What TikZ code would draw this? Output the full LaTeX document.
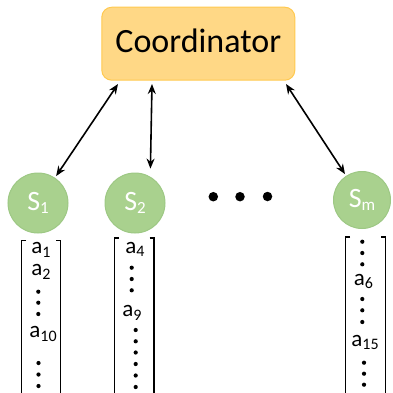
\documentclass[tikz,border=0pt]{standalone}
\usepackage{fontspec}
\setmainfont{Carlito}
\usetikzlibrary{arrows.meta}
\definecolor{boxfill}{HTML}{FFD886}
\definecolor{boxline}{HTML}{FFC94F}
\definecolor{srvfill}{HTML}{A9D18E}
\definecolor{srvline}{HTML}{9DC884}
\newcommand{\subsc}[2]{{\fontsize{#1}{#1}\selectfont\raisebox{-0.22em}{#2}}}
\begin{document}
\begin{tikzpicture}[x=1pt,y=-1pt,
  coord/.style={draw=boxline,fill=boxfill,line width=1pt,rounded corners=10pt,minimum width=193pt,minimum height=73pt,inner sep=0pt},
  ctext/.style={inner sep=0pt,font=\fontsize{34}{34}\selectfont},
  srv/.style={circle,draw=srvline,fill=srvfill,line width=1pt,inner sep=0pt,text=white,font=\fontsize{28}{28}\selectfont},
  link/.style={{Stealth[length=10pt,width=8pt]}-{Stealth[length=10pt,width=8pt]},line width=1.6pt},
  elem/.style={inner sep=0pt,font=\fontsize{23}{23}\selectfont},
  brk/.style={line width=1.1pt},
  bigdot/.style={circle,fill=black,inner sep=0pt,minimum size=9.5pt},
  smalldot/.style={circle,fill=black,inner sep=0pt,minimum size=4.2pt}]
\useasboundingbox (0,0) rectangle (393,392);

\node[coord] (C) at (198.3,43.7) {};
\node[ctext] (Ct) at (198.3,40.5) {Coordinator};

\node[srv,minimum size=60pt] (S1) at (38,203) {S\subsc{17}{1}};
\node[srv,minimum size=60pt] (S2) at (135,203) {S\subsc{17}{2}};
\node[srv,minimum size=57pt] (Sm) at (362,200) {S\subsc{17}{m}};

\coordinate (c1) at (118,84);
\coordinate (c2) at (152,84);
\coordinate (c3) at (286,84);
\draw[link,shorten >=2pt] (c1) -- (S1);
\draw[link,shorten >=8pt] (c2) -- (S2.60);
\draw[link,shorten >=2pt] (c3) -- (Sm);

\node[bigdot] (d1) at (213.3,196.7) {};
\node[bigdot] (d2) at (240,196.7) {};
\node[bigdot] (d3) at (267.5,196.5) {};

% column 1
\draw[brk] (26,240.5) -- (21.5,240.5) -- (21.5,395);
\draw[brk] (56,240.5) -- (60.5,240.5) -- (60.5,395);
\node[elem] (a1) at (41,250) {a\subsc{16}{1}};
\node[elem] (a2) at (41,272) {a\subsc{16}{2}};
\foreach \y in {291.7,302.7,314} \node[smalldot] at (38.3,\y) {};
\node[elem] (a10) at (43,334) {a\subsc{16}{10}};
\foreach \y in {363,374.5,386} \node[smalldot] at (38.5,\y) {};

% column 2
\draw[brk] (119,238) -- (114.5,238) -- (114.5,395);
\draw[brk] (149.5,238) -- (154,238) -- (154,395);
\node[elem] (a4) at (135,249.5) {a\subsc{16}{4}};
\foreach \y in {267.7,279,290.3} \node[smalldot] at (131.7,\y) {};
\node[elem] (a9) at (132,313) {a\subsc{16}{9}};
\foreach \y in {330,341.3,352.5,364,375.5,387} \node[smalldot] at (135.7,\y) {};

% column m
\draw[brk] (350,237) -- (345.5,237) -- (345.5,395);
\draw[brk] (381,237) -- (385.5,237) -- (385.5,395);
\foreach \y in {241.7,253,264.3} \node[smalldot] at (362.3,\y) {};
\node[elem] (a6) at (363.5,281.5) {a\subsc{16}{6}};
\foreach \y in {299,310.3,322} \node[smalldot] at (362.3,\y) {};
\node[elem] (a15) at (365,342.5) {a\subsc{16}{15}};
\foreach \y in {362.7,373.7,384.7} \node[smalldot] at (364,\y) {};
\end{tikzpicture}
\end{document}
